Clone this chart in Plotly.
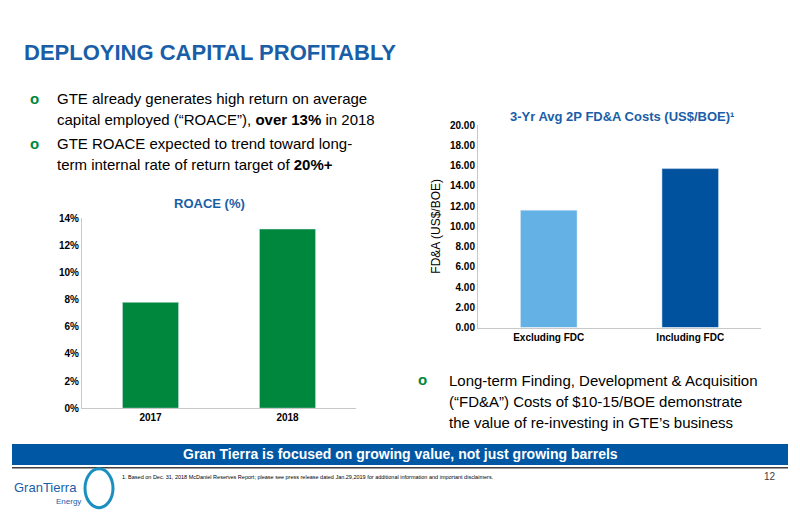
import plotly.graph_objects as go

roace_years = ["2017", "2018"]
roace_values = [7.8, 13.2]

fda_labels = ["Excluding FDC", "Including FDC"]
fda_values = [11.6, 15.7]
fda_colors = ["#63B1E5", "#00519E"]

# page body has an 8px margin, so draw in 784x502 and shift coords
W, H = 784, 502
OFF = 8


def px(x):
    return (x - OFF) / W


def py(y):
    # small vertical correction measured from the rendered page
    y = (y - 3) / 0.981
    return 1 - (y - OFF) / H


fig = go.Figure()

fig.add_trace(go.Bar(x=roace_years, y=roace_values, marker_color="#00873E",
                     xaxis="x", yaxis="y", showlegend=False, width=0.41))
fig.add_trace(go.Bar(x=fda_labels, y=fda_values, marker_color=fda_colors,
                     xaxis="x2", yaxis="y2", showlegend=False, width=0.4))

tick_font = dict(family="Arial", size=10, color="black", weight="bold")
axis_common = dict(showline=True, linecolor="#c8c8c8", ticks="", showgrid=False,
                   zeroline=False, tickfont=tick_font)
fig.update_layout(
    width=W, height=H, margin=dict(l=0, r=0, t=0, b=0),
    plot_bgcolor="white", paper_bgcolor="white",
    xaxis=dict(axis_common, domain=[px(82), px(356)], anchor="y"),
    yaxis=dict(axis_common, domain=[py(407), py(216)], anchor="x", range=[0, 14],
               dtick=2, ticksuffix="%"),
    xaxis2=dict(axis_common, domain=[px(478), px(761)], anchor="y2"),
    yaxis2=dict(axis_common, domain=[py(326), py(122.5)], anchor="x2", range=[0, 20],
                dtick=2, tickformat=".2f",
                title=dict(text="FD&A (US$/BOE)",
                           font=dict(family="Arial", size=12, color="black"),
                           standoff=6)),
)

shapes = [
    dict(type="rect", xref="paper", yref="paper", x0=px(12), x1=px(788),
         y0=py(464), y1=py(443), fillcolor="#0057A4", line_width=0),
    dict(type="line", xref="paper", yref="paper", x0=px(12), x1=px(788),
         y0=py(467), y1=py(467), line=dict(color="#404040", width=1.5)),
    dict(type="circle", xref="paper", yref="paper", x0=px(85), x1=px(113),
         y0=py(507), y1=py(468), line=dict(color="#1A8FC0", width=3)),
]
fig.update_layout(shapes=shapes)

ann = []


def text(x, y, s, size, color="black", bold=False, xanchor="left"):
    if bold:
        s = f"<b>{s}</b>"
    ann.append(dict(x=px(x), y=py(y), xref="paper", yref="paper", text=s,
                    showarrow=False, xanchor=xanchor, yanchor="middle", align="left",
                    font=dict(family="Arial", size=size, color=color)))


text(22, 50, "DEPLOYING CAPITAL PROFITABLY", 22, "#1A5EA8", bold=True)

bullet_color = "#00873E"
for x, y in ((28, 96), (28, 141), (416, 378)):
    text(x, y, "<b>o</b>", 15, bullet_color)

text(55, 96, "GTE already generates high return on average", 15)
text(55, 117, "capital employed (“ROACE”), <b>over 13%</b> in 2018", 15)
text(55, 141, "GTE ROACE expected to trend toward long-", 15)
text(55, 162, "term internal rate of return target of <b>20%+</b>", 15)

text(210, 201, "ROACE (%)", 13, "#1A5EA8", bold=True, xanchor="center")
text(622, 114, "3-Yr Avg 2P FD&A Costs (US$/BOE)¹", 13, "#1A5EA8", bold=True,
     xanchor="center")

text(447, 379, "Long-term Finding, Development & Acquisition", 15)
text(447, 400, "(“FD&A”) Costs of $10-15/BOE demonstrate", 15)
text(447, 421, "the value of re-investing in GTE’s business", 15)

text(400, 453, "Gran Tierra is focused on growing value, not just growing barrels",
     14, "white", bold=True, xanchor="center")

text(120, 476, "1. Based on Dec. 31, 2018 McDaniel Reserves Report; please see press "
     "release dated Jan.29,2019 for additional information and important disclaimers.",
     5.5)
text(778, 476, "12", 10, "#404040", xanchor="right")

text(12, 487, "GranTierra", 13, "#1A5EA8")
text(54, 501, "Energy", 8, "#1A5EA8")

fig.update_layout(annotations=ann)

fig.write_html("out.html")
